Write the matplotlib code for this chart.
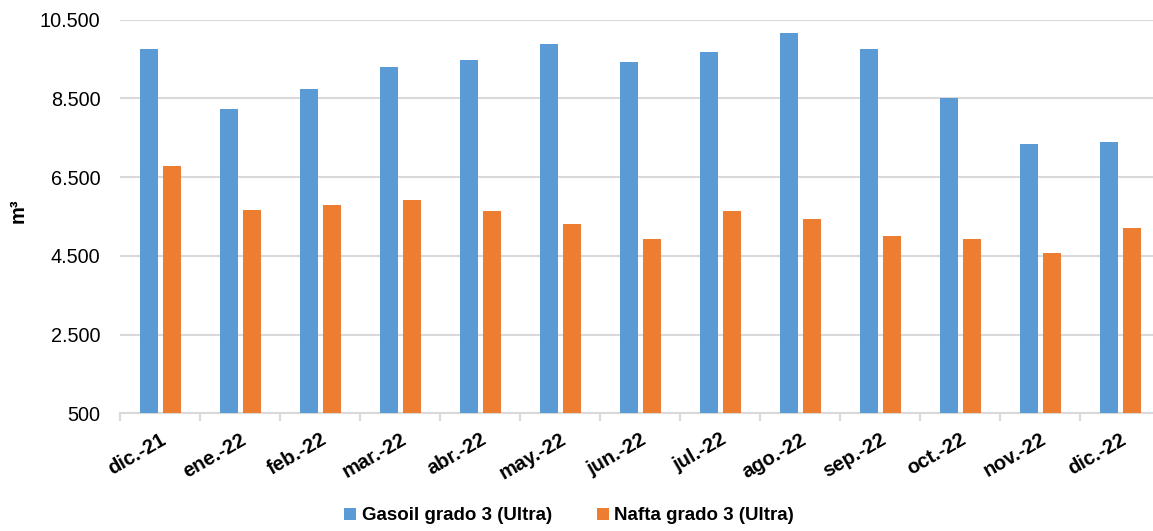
import numpy as np
import matplotlib
matplotlib.use("Agg")
import matplotlib.pyplot as plt
from matplotlib.ticker import FuncFormatter, FixedLocator

plt.rcParams["font.family"] = ["Liberation Sans", "DejaVu Sans"]

# --- data (m3 por mes) ---
months = ["dic.-21", "ene.-22", "feb.-22", "mar.-22", "abr.-22", "may.-22", "jun.-22",
          "jul.-22", "ago.-22", "sep.-22", "oct.-22", "nov.-22", "dic.-22"]
gasoil = [9750, 8230, 8740, 9290, 9475, 9880, 9415, 9670, 10160, 9755, 8500, 7340, 7400]
nafta = [6785, 5665, 5790, 5920, 5650, 5300, 4930, 5645, 5430, 5005, 4930, 4565, 5200]
series_names = ["Gasoil grado 3 (Ultra)", "Nafta grado 3 (Ultra)"]
yticks = [500, 2500, 4500, 6500, 8500, 10500]

BLUE = "#5B9BD5"
ORANGE = "#ED7D31"
GRID = "#d9d9d9"

fig = plt.figure(figsize=(11.53, 5.31), dpi=100)
ax = fig.add_axes([120 / 1153, 117.7 / 531, 1 - 120 / 1153, 393.6 / 531])

x = np.arange(len(months))
w = 0.225
ax.bar(x - 0.14, gasoil, width=w, color=BLUE, label=series_names[0], zorder=3)
ax.bar(x + 0.145, nafta, width=w, color=ORANGE, label=series_names[1], zorder=3)

ax.set_ylim(500, 10500)
ax.set_xlim(-0.5, 12.41)
ax.set_yticks(yticks)
ax.yaxis.set_major_formatter(FuncFormatter(lambda v, p: f"{int(v):,}".replace(",", ".")))
ax.grid(axis="y", color=GRID, linewidth=1.5, zorder=0)
ax.tick_params(axis="y", length=0, labelsize=14.3, pad=14)

# category labels, with tick marks between categories
ax.set_xticks(x)
ax.set_xticklabels(months, rotation=30, ha="right", va="top", rotation_mode="anchor",
                   fontsize=14.5, fontweight="bold")
ax.tick_params(axis="x", which="major", length=0, pad=12)
ax.xaxis.set_minor_locator(FixedLocator(np.arange(-0.5, 12.6, 1)))
ax.tick_params(axis="x", which="minor", length=6, width=1.5, color=GRID)

for s in ["top", "right", "left"]:
    ax.spines[s].set_visible(False)
ax.spines["bottom"].set_color(GRID)
ax.spines["bottom"].set_linewidth(1.5)

fig.text(18 / 1153, 1 - 211 / 531, "m³", rotation=90, ha="center", va="center",
         fontsize=14.5, fontweight="bold")

fig.legend(loc="center", bbox_to_anchor=(569 / 1153, 1 - 516 / 531), ncol=2, frameon=False,
           prop={"weight": "bold", "size": 13.5}, handlelength=0.65, handleheight=0.65,
           handletextpad=0.3, columnspacing=2.4)

fig.savefig("out.png", dpi=100)
